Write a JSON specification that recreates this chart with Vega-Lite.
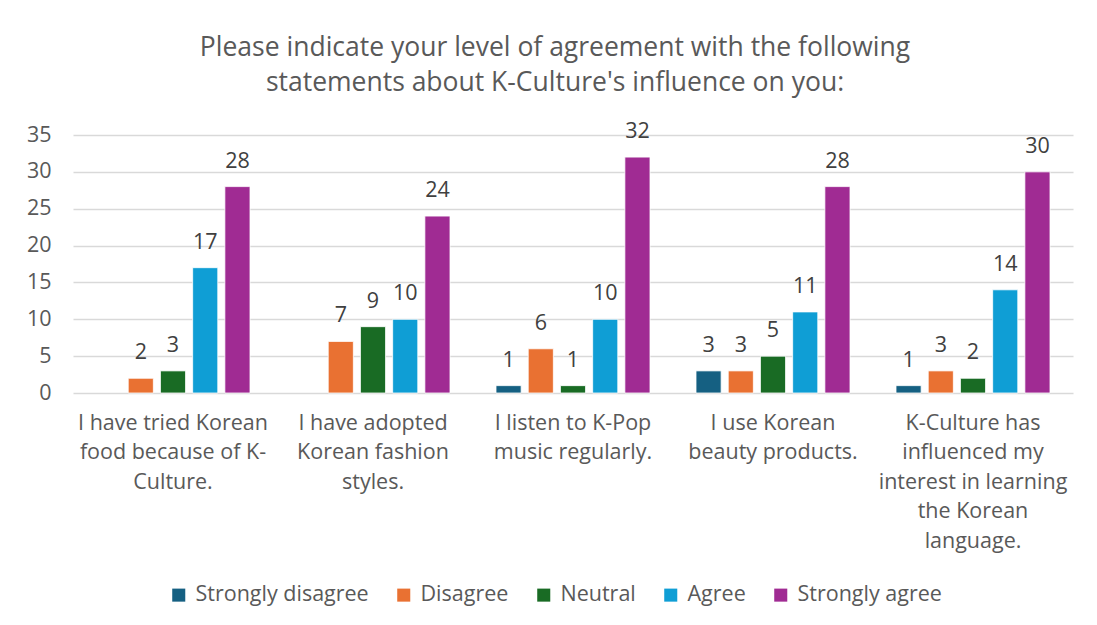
{
  "$schema": "https://vega.github.io/schema/vega-lite/v6.json",
  "autosize": {"type": "none"},
  "width": 1000,
  "height": 258,
  "padding": {"left": 73, "top": 135, "right": 24, "bottom": 232},
  "background": "white",
  "config": {
    "font": "Open Sans",
    "view": {"stroke": null}
  },
  "title": {
    "text": ["Please indicate your level of agreement with the following", "statements about K-Culture's influence on you:"],
    "anchor": "middle",
    "frame": "group",
    "dx": -18,
    "offset": 25,
    "fontSize": 26.5,
    "fontWeight": "normal",
    "color": "#595959",
    "lineHeight": 35,
    "font": "Open Sans"
  },
  "data": {
    "values": [
      {"statement": "I have tried Korean|food because of K-|Culture.", "response": "Disagree", "count": 2},
      {"statement": "I have tried Korean|food because of K-|Culture.", "response": "Neutral", "count": 3},
      {"statement": "I have tried Korean|food because of K-|Culture.", "response": "Agree", "count": 17},
      {"statement": "I have tried Korean|food because of K-|Culture.", "response": "Strongly agree", "count": 28},
      {"statement": "I have adopted|Korean fashion|styles.", "response": "Disagree", "count": 7},
      {"statement": "I have adopted|Korean fashion|styles.", "response": "Neutral", "count": 9},
      {"statement": "I have adopted|Korean fashion|styles.", "response": "Agree", "count": 10},
      {"statement": "I have adopted|Korean fashion|styles.", "response": "Strongly agree", "count": 24},
      {"statement": "I listen to K-Pop|music regularly.", "response": "Strongly disagree", "count": 1},
      {"statement": "I listen to K-Pop|music regularly.", "response": "Disagree", "count": 6},
      {"statement": "I listen to K-Pop|music regularly.", "response": "Neutral", "count": 1},
      {"statement": "I listen to K-Pop|music regularly.", "response": "Agree", "count": 10},
      {"statement": "I listen to K-Pop|music regularly.", "response": "Strongly agree", "count": 32},
      {"statement": "I use Korean|beauty products.", "response": "Strongly disagree", "count": 3},
      {"statement": "I use Korean|beauty products.", "response": "Disagree", "count": 3},
      {"statement": "I use Korean|beauty products.", "response": "Neutral", "count": 5},
      {"statement": "I use Korean|beauty products.", "response": "Agree", "count": 11},
      {"statement": "I use Korean|beauty products.", "response": "Strongly agree", "count": 28},
      {"statement": "K-Culture has|influenced my|interest in learning|the Korean|language.", "response": "Strongly disagree", "count": 1},
      {"statement": "K-Culture has|influenced my|interest in learning|the Korean|language.", "response": "Disagree", "count": 3},
      {"statement": "K-Culture has|influenced my|interest in learning|the Korean|language.", "response": "Neutral", "count": 2},
      {"statement": "K-Culture has|influenced my|interest in learning|the Korean|language.", "response": "Agree", "count": 14},
      {"statement": "K-Culture has|influenced my|interest in learning|the Korean|language.", "response": "Strongly agree", "count": 30}
    ]
  },
  "encoding": {
    "x": {
      "field": "statement",
      "type": "nominal",
      "sort": null,
      "scale": {"paddingInner": 0.23, "paddingOuter": 0.115},
      "axis": {
        "title": null,
        "labelAngle": 0,
        "labelExpr": "split(datum.value, '|')",
        "labelFontSize": 21.5,
        "labelColor": "#595959",
        "labelLineHeight": 29.5,
        "labelPadding": 19,
        "labelLimit": 0,
        "ticks": false,
        "domain": false,
        "labelFont": "Open Sans"
      }
    },
    "xOffset": {
      "field": "response",
      "type": "nominal",
      "scale": {"domain": ["Strongly disagree", "Disagree", "Neutral", "Agree", "Strongly agree"], "paddingInner": 0.22, "paddingOuter": 0}
    },
    "y": {
      "field": "count",
      "type": "quantitative",
      "scale": {"domain": [0, 35]},
      "axis": {
        "title": null,
        "values": [0, 5, 10, 15, 20, 25, 30, 35],
        "labelFontSize": 21.5,
        "labelColor": "#595959",
        "labelPadding": 22,
        "ticks": false,
        "domain": false,
        "gridColor": "#d9d9d9",
        "gridWidth": 1.5,
        "labelFont": "Open Sans"
      }
    }
  },
  "layer": [
    {
      "mark": {"type": "bar", "stroke": "white", "strokeWidth": 0.8},
      "encoding": {
        "color": {
          "field": "response",
          "type": "nominal",
          "scale": {
            "domain": ["Strongly disagree", "Disagree", "Neutral", "Agree", "Strongly agree"],
            "range": ["#156082", "#E97132", "#196B24", "#0F9ED5", "#A02B93"]
          },
          "legend": {
            "title": null,
            "orient": "none",
            "direction": "horizontal",
            "legendX": 95,
            "legendY": 449,
            "symbolType": "square",
            "symbolSize": 170,
            "symbolStrokeWidth": 0,
            "labelFontSize": 21.5,
            "labelColor": "#595959",
            "labelOffset": 6,
            "columnPadding": 24,
            "labelFont": "Open Sans",
            "labelLimit": 0
          }
        }
      }
    },
    {
      "mark": {"type": "text", "baseline": "alphabetic", "dy": -19, "fontSize": 21.5, "color": "#404040", "font": "Open Sans"},
      "encoding": {
        "text": {"field": "count", "type": "quantitative"}
      }
    }
  ]
}
